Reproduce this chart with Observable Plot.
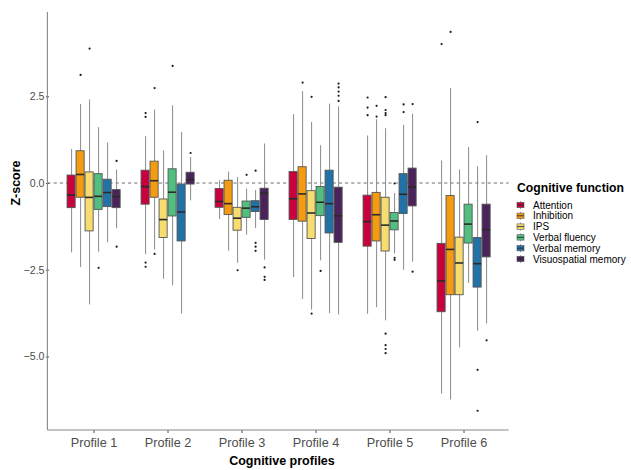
<!DOCTYPE html>
<html><head><meta charset="utf-8">
<script src="https://cdn.jsdelivr.net/npm/d3@7"></script>
<script src="https://cdn.jsdelivr.net/npm/@observablehq/plot@0.6"></script>
<style>body{margin:0;background:#fff}</style>
</head><body><div id="chart"></div>
<script>
const profiles = ["Profile 1","Profile 2","Profile 3","Profile 4","Profile 5","Profile 6"];
const functions = ["Attention","Inhibition","IPS","Verbal fluency","Verbal memory","Visuospatial memory"];
const colors = ["#C8003C","#F39C12","#F7DC6F","#52BE80","#2272A8","#4A235A"];
const yTicks = [2.5, 0, -2.5, -5];

// rows = profiles, columns = functions
const q3 = [
  [0.23, 0.93, 0.32, 0.27, 0.11, -0.19],
  [0.37, 0.63, -0.46, 0.41, -0.03, 0.31],
  [-0.16, 0.08, -0.70, -0.52, -0.51, -0.15],
  [0.33, 0.47, -0.22, -0.10, 0.37, -0.12],
  [-0.35, -0.27, -0.41, -0.85, 0.27, 0.43],
  [-1.74, -0.36, -1.56, -0.61, -1.57, -0.61]
];
const med = [
  [-0.33, 0.26, -0.40, -0.37, -0.26, -0.38],
  [-0.09, 0.08, -1.04, -0.25, -0.82, 0.11],
  [-0.52, -0.58, -1.00, -0.71, -0.67, -0.28],
  [-0.44, -0.30, -0.85, -0.54, -0.58, -0.93],
  [-1.10, -0.90, -1.20, -1.08, -0.31, -0.10],
  [-2.81, -1.90, -2.29, -1.17, -2.31, -1.33]
];
const q1 = [
  [-0.71, -0.41, -1.38, -0.76, -0.68, -0.71],
  [-0.61, -0.41, -1.57, -0.95, -1.67, -0.03],
  [-0.70, -0.91, -1.36, -0.99, -0.82, -1.05],
  [-1.05, -1.10, -1.60, -0.94, -1.44, -1.71],
  [-1.82, -1.67, -1.96, -1.35, -0.88, -0.66],
  [-3.71, -3.22, -3.22, -1.73, -3.00, -2.13]
];
const whiskHi = [
  [0.98, 2.28, 2.41, 1.61, 1.17, 0.39],
  [1.35, 2.12, 0.94, 2.24, 1.47, 0.75],
  [0.08, 0.33, 0.17, -0.16, -0.20, 1.14],
  [1.99, 2.65, 1.76, 1.09, 2.29, 2.21],
  [1.37, 1.84, 1.58, -0.29, 1.68, 2.00],
  [0.65, 2.74, 0.39, 1.04, 0.48, 0.80]
];
const whiskLo = [
  [-2.00, -2.42, -3.50, -1.98, -1.71, -1.30],
  [-2.05, -1.92, -2.76, -2.95, -3.76, -0.50],
  [-1.04, -1.95, -2.30, -1.49, -1.30, -2.21],
  [-2.71, -3.34, -3.65, -2.23, -3.75, -3.79],
  [-3.77, -3.58, -3.96, -2.03, -2.50, -2.27],
  [-6.07, -6.24, -4.74, -2.88, -4.26, -4.05]
];
// [profile index, function index, value]
const outliers = [
  [0,1,3.13],[0,2,3.89],[0,3,-2.43],[0,5,0.65],[0,5,-1.82],
  [1,0,2.03],[1,0,1.92],[1,0,-2.28],[1,0,-2.40],[1,1,2.75],[1,1,-2.03],[1,3,3.39],[1,5,0.88],
  [2,2,-2.50],[2,3,0.25],[2,4,0.37],[2,4,-1.71],[2,4,-1.82],[2,4,-1.94],[2,5,-2.42],[2,5,-2.69],[2,5,-2.78],
  [3,1,2.91],[3,2,2.50],[3,2,-3.75],[3,3,-2.52],[3,5,2.88],[3,5,2.77],[3,5,2.65],[3,5,2.53],[3,5,2.38],
  [4,0,2.48],[4,0,2.19],[4,0,1.97],[4,1,2.24],[4,1,1.93],[4,2,2.49],[4,2,2.12],[4,2,2.03],[4,2,1.97],
  [4,2,-4.33],[4,2,-4.66],[4,2,-4.77],[4,2,-4.89],[4,3,0.0],[4,3,-2.14],[4,3,-2.20],[4,4,2.28],[4,4,2.06],
  [4,5,2.29],[4,5,-2.54],
  [5,0,4.02],[5,1,4.37],[5,4,1.77],[5,4,-5.37],[5,4,-6.55],[5,5,-4.52]
];

const rows = [];
profiles.forEach((p, i) => functions.forEach((f, j) => rows.push({
  profile: p, fn: f, q1: q1[i][j], med: med[i][j], q3: q3[i][j], lo: whiskLo[i][j], hi: whiskHi[i][j]
})));
const outRows = outliers.map(([i, j, v]) => ({profile: profiles[i], fn: functions[j], v}));

const W = 631, H = 470, mL = 47.4, mR = 122.4, mT = 12, mB = 40;
const font = '"Liberation Sans", Arial, Helvetica, sans-serif';

const plot = Plot.plot({
  width: W, height: H, marginLeft: mL, marginRight: mR, marginTop: mT, marginBottom: mB,
  style: {fontFamily: font, fontSize: "12.7px", color: "#4d4d4d", background: "#fff", overflow: "visible"},
  fx: {domain: profiles, paddingInner: -0.2, paddingOuter: 0, label: null, axis: "bottom", tickSize: 3, tickPadding: 4},
  x: {domain: functions, paddingInner: 0, paddingOuter: 1.8, axis: null},
  y: {domain: [-7.12, 4.93], ticks: yTicks, tickFormat: d3.format(".1f"), tickSize: 3, tickPadding: 2, label: null},
  color: {domain: functions, range: colors},
  marks: [
    Plot.ruleX(rows, {fx: "profile", x: "fn", y1: "lo", y2: "hi", stroke: "#8a8a8a", strokeWidth: 1}),
    Plot.barY(rows, {fx: "profile", x: "fn", y1: "q1", y2: "q3", fill: "fn", stroke: "#555", strokeWidth: 0.9, insetLeft: 0.45, insetRight: 0.45}),
    Plot.tickY(rows, {fx: "profile", x: "fn", y: "med", stroke: "#2a2a2a", strokeWidth: 1.6, insetLeft: 0.45, insetRight: 0.45}),
    Plot.dot(outRows, {fx: "profile", x: "fn", y: "v", r: 1.1, fill: "#1a1a1a", stroke: "none"})
  ]
});
document.getElementById("chart").appendChild(plot);

const svg = d3.select(plot);
svg.selectAll('[aria-label^="y-axis"]').attr("font-size", "10.6px");
svg.selectAll('[aria-label^="fx-axis"]').attr("font-size", "12.7px");
svg.selectAll('[aria-label^="y-axis tick"], [aria-label^="fx-axis tick"]').filter(function(){return this.getAttribute("aria-label").indexOf("label") < 0;}).attr("stroke", "#888");

const ys = plot.scale("y");
const yScale = d3.scaleLinear(ys.domain, ys.range);
const y0 = yScale(0);
// dashed reference line at 0, behind the boxes
svg.insert("line", ":first-child")
  .attr("x1", mL).attr("x2", W - mR).attr("y1", y0).attr("y2", y0)
  .attr("stroke", "#6e6e6e").attr("stroke-dasharray", "3.2,3").attr("stroke-width", 1);
// axis lines
const yBottom = yScale(ys.domain[0]), yTop = yScale(ys.domain[1]);
svg.append("line").attr("x1", mL).attr("x2", mL).attr("y1", yTop).attr("y2", yBottom).attr("stroke", "#888").attr("stroke-width", 1.1);
svg.append("line").attr("x1", mL).attr("x2", W - mR).attr("y1", yBottom).attr("y2", yBottom).attr("stroke", "#888").attr("stroke-width", 1.1);

// axis titles
svg.append("text").attr("transform", `translate(16,${y0}) rotate(-90)`).attr("text-anchor", "middle").attr("dy", "0.35em")
  .attr("font-weight", "bold").attr("font-size", "12.5px").attr("fill", "#000").text("Z-score");
svg.append("text").attr("x", 282).attr("y", 464.5).attr("text-anchor", "middle")
  .attr("font-weight", "bold").attr("font-size", "12.5px").attr("fill", "#000").text("Cognitive profiles");

// legend
const lg = svg.append("g").attr("transform", "translate(517,0)").attr("text-anchor", "start");
lg.append("text").attr("x", 0).attr("y", 191.5).attr("text-anchor", "start").attr("font-weight", "bold").attr("font-size", "12.2px").attr("fill", "#000").text("Cognitive function");
functions.forEach((f, i) => {
  const cy = 205 + i * 10.8;
  lg.append("line").attr("x1", 3.5).attr("x2", 3.5).attr("y1", cy - 4).attr("y2", cy + 4).attr("stroke", "#777").attr("stroke-width", 0.7);
  lg.append("rect").attr("x", 0).attr("y", cy - 2.7).attr("width", 7).attr("height", 5.4).attr("fill", colors[i]).attr("stroke", "#555").attr("stroke-width", 0.6);
  lg.append("line").attr("x1", 0).attr("x2", 7).attr("y1", cy).attr("y2", cy).attr("stroke", "#2a2a2a").attr("stroke-width", 0.9);
  lg.append("text").attr("x", 16).attr("y", cy).attr("dy", "0.35em").attr("text-anchor", "start").attr("font-size", "10px").attr("fill", "#000").text(f);
});
</script></body></html>
